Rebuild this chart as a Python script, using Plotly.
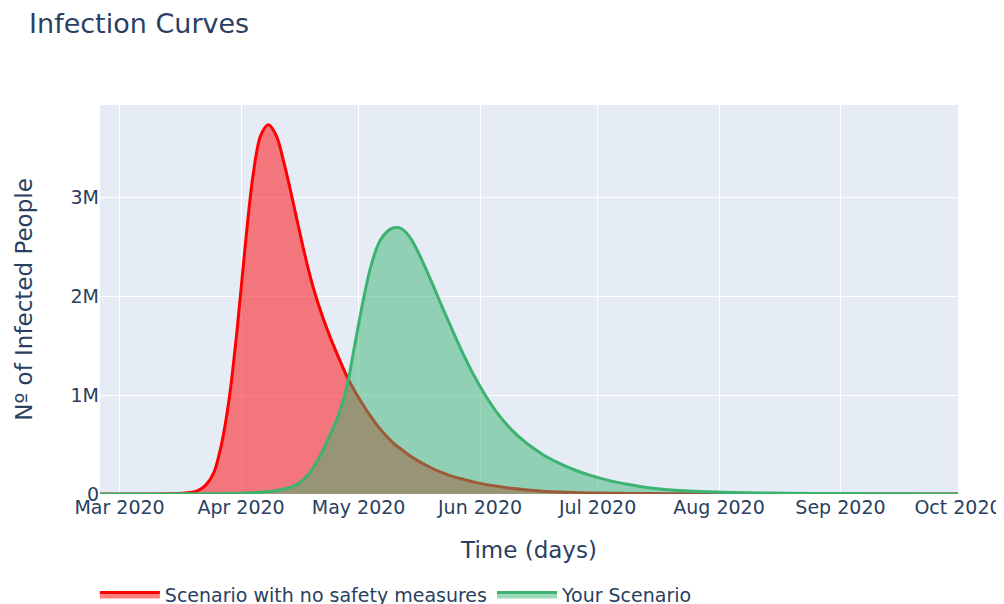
import plotly.graph_objects as go

dates = [
    "2020-02-25", "2020-03-01", "2020-03-07", "2020-03-13", "2020-03-17", "2020-03-19",
    "2020-03-21", "2020-03-23", "2020-03-25", "2020-03-27", "2020-03-29", "2020-03-31",
    "2020-04-02", "2020-04-04", "2020-04-06", "2020-04-08", "2020-04-10", "2020-04-12",
    "2020-04-14", "2020-04-16", "2020-04-18", "2020-04-20", "2020-04-22", "2020-04-24",
    "2020-04-26", "2020-04-28", "2020-04-30", "2020-05-02", "2020-05-04", "2020-05-06",
    "2020-05-08", "2020-05-10", "2020-05-12", "2020-05-14", "2020-05-16", "2020-05-18",
    "2020-05-20", "2020-05-22", "2020-05-24", "2020-05-26", "2020-05-28", "2020-05-30",
    "2020-06-02", "2020-06-05", "2020-06-09", "2020-06-13", "2020-06-17", "2020-06-21",
    "2020-06-25", "2020-06-29", "2020-07-04", "2020-07-09", "2020-07-14", "2020-07-19",
    "2020-07-29", "2020-08-08", "2020-08-18", "2020-09-02", "2020-09-17", "2020-10-01",
]

# infected people, in millions
no_measures_m = [
    0.0, 0.0, 0.001, 0.003, 0.008, 0.015,
    0.035, 0.09, 0.21, 0.50, 0.97, 1.66,
    2.48, 3.20, 3.62, 3.73, 3.62, 3.34,
    3.00, 2.64, 2.30, 2.01, 1.77, 1.56,
    1.37, 1.19, 1.04, 0.91, 0.79, 0.68,
    0.59, 0.51, 0.45, 0.39, 0.34, 0.295,
    0.255, 0.22, 0.19, 0.165, 0.145, 0.125,
    0.10, 0.08, 0.057, 0.04, 0.028, 0.02,
    0.015, 0.011, 0.008, 0.006, 0.004, 0.003,
    0.002, 0.001, 0.0007, 0.0004, 0.0002, 0.0001,
]

your_scenario_m = [
    0.0, 0.0, 0.0005, 0.001, 0.0015, 0.002,
    0.002, 0.003, 0.003, 0.004, 0.005, 0.007,
    0.01, 0.013, 0.018, 0.025, 0.035, 0.05,
    0.075, 0.115, 0.19, 0.30, 0.45, 0.62,
    0.81, 1.08, 1.50, 1.92, 2.28, 2.52,
    2.64, 2.69, 2.68, 2.60, 2.46, 2.29,
    2.11, 1.92, 1.74, 1.56, 1.39, 1.23,
    1.02, 0.84, 0.65, 0.51, 0.40, 0.315,
    0.245, 0.19, 0.135, 0.095, 0.062, 0.042,
    0.022, 0.012, 0.008, 0.004, 0.002, 0.001,
]

names = ["Scenario with no safety measures", "Your Scenario"]
colors = ["red", "mediumseagreen"]

fig = go.Figure()
for name, color, vals in zip(names, colors, [no_measures_m, your_scenario_m]):
    fig.add_trace(go.Scatter(
        x=dates,
        y=[v * 1e6 for v in vals],
        name=name,
        mode="lines",
        fill="tozeroy",
        line=dict(color=color, width=3, shape="spline", smoothing=0.9),
    ))

font_family = "DejaVu Sans"
fig.update_layout(
    width=1004,
    height=604,
    template="plotly",
    font=dict(family=font_family, size=19, color="#2a3f5f"),
    title=dict(text="Infection Curves", x=0.021, xanchor="left", y=0.975, yanchor="middle",
               font=dict(size=27)),
    margin=dict(l=92, r=54, t=97, b=118, autoexpand=False),
    xaxis=dict(title=dict(text="Time (days)", font=dict(size=23), standoff=24),
               dtick="M1", tickformat="%b %Y", tickfont=dict(size=19), automargin=False),
    yaxis=dict(title=dict(text="Nº of Infected People", font=dict(size=23), standoff=31),
               range=[0, 3.93e6], dtick=1e6, tickfont=dict(size=19), automargin=False),
    legend=dict(orientation="h", x=-0.006, xanchor="left", y=-0.21, yanchor="top",
                font=dict(size=19), itemwidth=60),
)

fig.write_html("out.html")
